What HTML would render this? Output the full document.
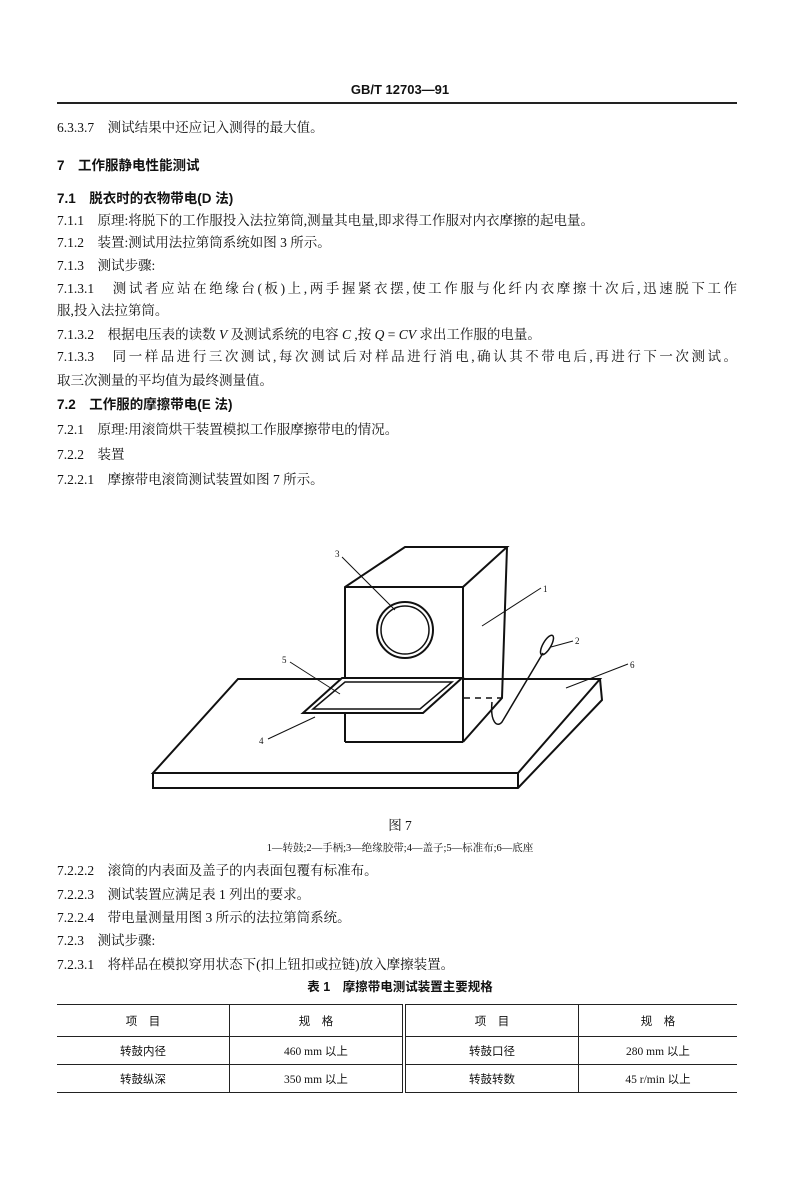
<!DOCTYPE html>
<html><head><meta charset="utf-8"><style>
body{margin:0;width:800px;height:1200px;background:#fff;position:relative;font-family:"Liberation Serif","Noto Serif CJK SC","Noto Sans CJK SC",serif;color:#111;overflow:hidden}
.l{position:absolute;left:57px;font-size:13.5px;line-height:20px;white-space:nowrap}
.b{font-weight:bold;font-family:"Liberation Sans","Noto Sans CJK SC",sans-serif}
.j{width:680px;text-align:justify;text-align-last:justify}
table{position:absolute;left:57px;top:1004px;width:680px;border-collapse:collapse;font-size:11.5px;font-family:"Liberation Serif","Noto Sans CJK SC",serif}
td{text-align:center;height:25px;border-bottom:1px solid #222}
tr:first-child td{border-top:1.5px solid #222;border-bottom:1.5px solid #222;height:29px}
</style></head><body>
<div class="l b" style="left:0;width:800px;text-align:center;top:80px;font-size:13px">GB/T 12703—91</div>
<div style="position:absolute;left:57px;top:102px;width:680px;height:2px;background:#222"></div>
<div class="l" style="top:118px">6.3.3.7　测试结果中还应记入测得的最大值。</div>
<div class="l b" style="top:156px">7　工作服静电性能测试</div>
<div class="l b" style="top:189px">7.1　脱衣时的衣物带电(D 法)</div>
<div class="l" style="top:211px">7.1.1　原理:将脱下的工作服投入法拉第筒,测量其电量,即求得工作服对内衣摩擦的起电量。</div>
<div class="l" style="top:233px">7.1.2　装置:测试用法拉第筒系统如图 3 所示。</div>
<div class="l" style="top:256px">7.1.3　测试步骤:</div>
<div class="l j" style="top:279px">7.1.3.1　测试者应站在绝缘台(板)上,两手握紧衣摆,使工作服与化纤内衣摩擦十次后,迅速脱下工作</div>
<div class="l" style="top:301px">服,投入法拉第筒。</div>
<div class="l" style="top:325px">7.1.3.2　根据电压表的读数 <i>V</i> 及测试系统的电容 <i>C</i> ,按 <i>Q</i> = <i>CV</i> 求出工作服的电量。</div>
<div class="l j" style="top:347px">7.1.3.3　同一样品进行三次测试,每次测试后对样品进行消电,确认其不带电后,再进行下一次测试。</div>
<div class="l" style="top:371px">取三次测量的平均值为最终测量值。</div>
<div class="l b" style="top:395px">7.2　工作服的摩擦带电(E 法)</div>
<div class="l" style="top:420px">7.2.1　原理:用滚筒烘干装置模拟工作服摩擦带电的情况。</div>
<div class="l" style="top:445px">7.2.2　装置</div>
<div class="l" style="top:470px">7.2.2.1　摩擦带电滚筒测试装置如图 7 所示。</div>

<svg style="position:absolute;left:0;top:0" width="800" height="1200" fill="none" stroke="#111" stroke-width="2" font-family="Liberation Serif" font-size="9">
<polygon points="238,679 600,679 518,773 153,773" fill="#fff"/>
<polyline points="153,773 153,788 518,788 602,700 600,679"/>
<line x1="518" y1="773" x2="518" y2="788"/>
<g stroke-dasharray="6,5" stroke-width="1.5"><line x1="387" y1="698" x2="502" y2="698"/><line x1="387" y1="698" x2="348" y2="740"/></g>
<polygon points="345,587 463,587 463,742 345,742" fill="#fff" stroke="none"/>
<polyline points="345,742 345,587 405,547 507,547 463,587 463,742"/>
<line x1="345" y1="587" x2="463" y2="587"/>
<polyline points="507,547 502,698 463,742"/>
<line x1="345" y1="742" x2="463" y2="742"/>
<circle cx="405" cy="630" r="28"/><circle cx="405" cy="630" r="24" stroke-width="1.5"/>
<polygon points="303,713 342,678 462,678 423,713" fill="#fff"/>
<polygon points="313,709 345,682 452,682 420,709" stroke-width="1.5"/>
<path d="M492,702 C490,722 497,728 502,722 L543,653" stroke-width="1.5"/>
<ellipse cx="547" cy="645" rx="4" ry="11" transform="rotate(30 547 645)" stroke-width="1.5"/>
<g stroke-width="1"><line x1="342" y1="557" x2="395" y2="610"/><line x1="541" y1="588" x2="482" y2="626"/><line x1="573" y1="641" x2="551" y2="647"/><line x1="628" y1="664" x2="566" y2="688"/><line x1="290" y1="662" x2="340" y2="694"/><line x1="268" y1="739" x2="315" y2="717"/></g>
<g fill="#111" stroke="none"><text x="335" y="557">3</text><text x="543" y="592">1</text><text x="575" y="644">2</text><text x="630" y="668">6</text><text x="282" y="663">5</text><text x="259" y="744">4</text></g>
</svg>

<div class="l" style="left:0;width:800px;text-align:center;top:816px">图 7</div>
<div class="l" style="left:0;width:800px;text-align:center;top:839px;font-size:10.5px">1—转鼓;2—手柄;3—绝缘胶带;4—盖子;5—标准布;6—底座</div>
<div class="l" style="top:861px">7.2.2.2　滚筒的内表面及盖子的内表面包覆有标准布。</div>
<div class="l" style="top:885px">7.2.2.3　测试装置应满足表 1 列出的要求。</div>
<div class="l" style="top:908px">7.2.2.4　带电量测量用图 3 所示的法拉第筒系统。</div>
<div class="l" style="top:931px">7.2.3　测试步骤:</div>
<div class="l" style="top:955px">7.2.3.1　将样品在模拟穿用状态下(扣上钮扣或拉链)放入摩擦装置。</div>
<div class="l b" style="left:0;width:800px;text-align:center;top:977px;font-size:12.5px">表 1　摩擦带电测试装置主要规格</div>
<table>
<tr><td style="width:170px;border-right:1px solid #222">项　目</td><td style="width:170px;border-right:4px double #222">规　格</td><td style="width:170px;border-right:1px solid #222">项　目</td><td>规　格</td></tr>
<tr><td style="border-right:1px solid #222">转鼓内径</td><td style="border-right:4px double #222">460 mm 以上</td><td style="border-right:1px solid #222">转鼓口径</td><td>280 mm 以上</td></tr>
<tr><td style="border-right:1px solid #222">转鼓纵深</td><td style="border-right:4px double #222">350 mm 以上</td><td style="border-right:1px solid #222">转鼓转数</td><td>45 r/min 以上</td></tr>
</table>
</body></html>
